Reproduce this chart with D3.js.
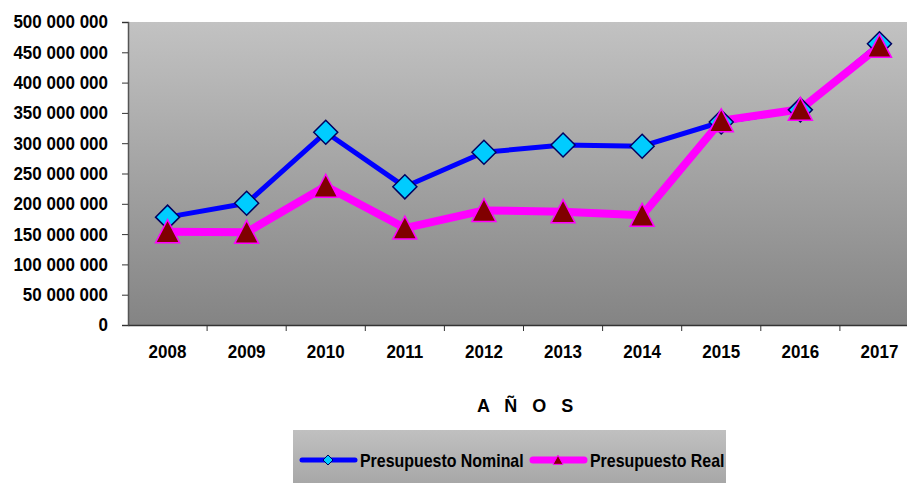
<!DOCTYPE html>
<html><head><meta charset="utf-8">
<script src="https://cdn.jsdelivr.net/npm/d3@7"></script>
<style>body{margin:0;background:#fff}svg{display:block}text{font-family:"Liberation Sans",Arial,sans-serif;font-weight:bold}</style>
</head><body><svg id="c" width="907" height="483"></svg>
<script>
const years = ["2008","2009","2010","2011","2012","2013","2014","2015","2016","2017"];
const nominal = [178000000,201000000,318000000,228000000,285000000,297000000,295000000,335000000,355000000,464000000];
const real = [154000000,153000000,229000000,160000000,189000000,187000000,181000000,337000000,356000000,460000000];
const yTicks = [0,50000000,100000000,150000000,200000000,250000000,300000000,350000000,400000000,450000000,500000000];
const seriesNames = ["Presupuesto Nominal","Presupuesto Real"];
const axisTitle = "A Ñ O S";

const FONT = '"Liberation Sans",Arial,sans-serif';
const SX = 0.92;
const svg = d3.select("#c");
const L = 128, R = 919, T = 22, B = 325;
const x = d3.scaleBand().domain(years).range([L, R]);
const y = d3.scaleLinear().domain([0, 500000000]).range([B, T]);
const fmt = v => d3.format(",")(v).replace(/,/g, " ");

const defs = svg.append("defs");
const g1 = defs.append("linearGradient").attr("id","bg").attr("x1",0).attr("y1",0).attr("x2",0).attr("y2",1);
g1.append("stop").attr("offset","0%").attr("stop-color","#c2c2c2");
g1.append("stop").attr("offset","100%").attr("stop-color","#848484");
const g2 = defs.append("linearGradient").attr("id","lg").attr("x1",0).attr("y1",0).attr("x2",0).attr("y2",1);
g2.append("stop").attr("offset","0%").attr("stop-color","#c0c0c0");
g2.append("stop").attr("offset","100%").attr("stop-color","#a6a6a6");

svg.append("rect").attr("x",L).attr("y",T).attr("width",R-L).attr("height",B-T).attr("fill","url(#bg)");

// y axis
const ya = svg.append("g").attr("transform",`translate(${L},0)`)
  .call(d3.axisLeft(y).tickValues(yTicks).tickFormat(fmt).tickSize(6));
ya.select(".domain").attr("stroke","#555").attr("stroke-width",1.5);
ya.selectAll(".tick line").attr("stroke","#333");
ya.selectAll("text").attr("font-size",18.5).attr("fill","#000").attr("font-family",FONT).attr("font-weight","bold")
  .attr("x", -20/SX).attr("transform",`scale(${SX},1)`);

// x axis
const xa = svg.append("g").attr("transform",`translate(0,${B})`)
  .call(d3.axisBottom(x).tickSize(0).tickPadding(20));
xa.select(".domain").attr("stroke","#333").attr("stroke-width",1.5);
xa.selectAll("text").attr("font-size",18.5).attr("fill","#000").attr("font-family",FONT).attr("font-weight","bold")
  .attr("transform",`scale(${SX},1)`);
svg.append("g").selectAll("line").data(years.slice(1)).join("line")
  .attr("x1",d=>x(d)).attr("x2",d=>x(d)).attr("y1",B).attr("y2",B+6).attr("stroke","#333");

svg.append("text").attr("x",477).attr("y",412)
  .attr("font-size",18).attr("letter-spacing","5px").text(axisTitle);

const cx = d => x(d) + x.bandwidth()/2;
const line = d3.line().x((d,i)=>cx(years[i])).y(d=>y(d));

svg.append("path").datum(nominal).attr("d",line).attr("fill","none").attr("stroke","#0000ff").attr("stroke-width",5).attr("stroke-linejoin","round");
svg.append("path").datum(real).attr("d",line).attr("fill","none").attr("stroke","#ff00ff").attr("stroke-width",8).attr("stroke-linejoin","round");

const diamond = s => `M0,${-s}L${s},0L0,${s}L${-s},0Z`;
const tri = (w,h) => `M0,${-h*0.52}L${w/2},${h*0.48}L${-w/2},${h*0.48}Z`;

svg.append("g").selectAll("path").data(nominal).join("path")
  .attr("transform",(d,i)=>`translate(${cx(years[i])},${y(d)})`)
  .attr("d",diamond(12)).attr("fill","#00ccff").attr("stroke","#000060").attr("stroke-width",1.5);
svg.append("g").selectAll("path").data(real).join("path")
  .attr("transform",(d,i)=>`translate(${cx(years[i])},${y(d)})`)
  .attr("d",tri(24,23)).attr("fill","#800000").attr("stroke","#ff00ff").attr("stroke-width",1.5);

// legend
svg.append("rect").attr("x",293).attr("y",430).attr("width",433).attr("height",56).attr("fill","url(#lg)");
const ly = 460;
svg.append("line").attr("x1",302).attr("x2",355).attr("y1",ly).attr("y2",ly).attr("stroke","#0000ff").attr("stroke-width",5).attr("stroke-linecap","round");
svg.append("path").attr("transform",`translate(328,${ly})`).attr("d",diamond(5)).attr("fill","#00ccff").attr("stroke","#000060").attr("stroke-width",1);
const LSX = 0.885;
svg.append("text").attr("x",360/LSX).attr("y",ly+7).attr("font-size",18).attr("transform",`scale(${LSX},1)`).text(seriesNames[0]);
svg.append("line").attr("x1",533).attr("x2",584).attr("y1",ly).attr("y2",ly).attr("stroke","#ff00ff").attr("stroke-width",7).attr("stroke-linecap","round");
svg.append("path").attr("transform",`translate(558,${ly})`).attr("d",tri(10,9)).attr("fill","#800000").attr("stroke","#ff00ff").attr("stroke-width",1);
svg.append("text").attr("x",590/LSX).attr("y",ly+7).attr("font-size",18).attr("transform",`scale(${LSX},1)`).text(seriesNames[1]);
</script></body></html>
